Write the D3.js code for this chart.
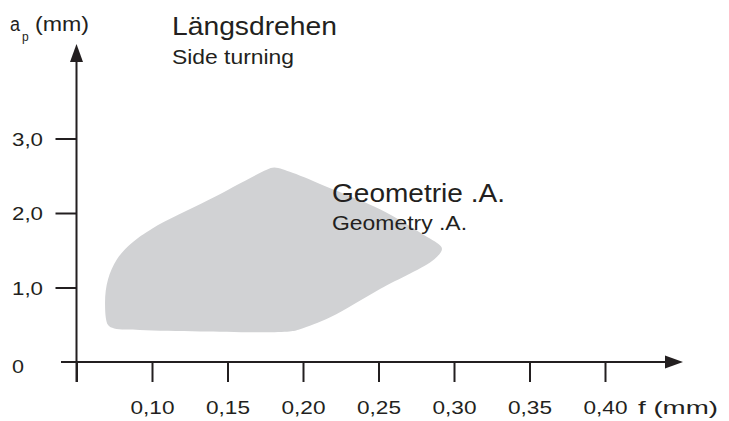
<!DOCTYPE html>
<html><head><meta charset="utf-8">
<script src="https://cdn.jsdelivr.net/npm/d3@7"></script>
<style>
html,body{margin:0;padding:0;background:#fff;}
text{font-family:"Liberation Sans",Arial,Helvetica,sans-serif;fill:#231f20;}
</style></head>
<body><svg id="c" width="729" height="421"></svg>
<script>
// Data
const xTicks = [0.05, 0.10, 0.15, 0.20, 0.25, 0.30, 0.35, 0.40];
const xTickLabels = ["", "0,10", "0,15", "0,20", "0,25", "0,30", "0,35", "0,40"];
const yTicks = [1, 2, 3];
const yTickLabels = ["1,0", "2,0", "3,0"];
// Outline of the "Geometrie .A." working area (f in mm, ap in mm)
const regionF  = [0.0709,0.0689,0.0709,0.0768,0.0868,0.100,0.138,0.176,0.181,0.193,0.216,0.251,0.282,0.291,0.292,0.287,0.251,0.218,0.198,0.191,0.132,0.092,0.075];
const regionAp = [0.495,0.80,1.11,1.38,1.60,1.79,2.18,2.58,2.61,2.54,2.35,2.05,1.68,1.56,1.51,1.38,0.98,0.60,0.44,0.41,0.41,0.43,0.45];

const svg = d3.select("#c");
const ink = "#231f20";
const x = d3.scaleLinear().domain([0.05, 0.40]).range([76.5, 605]);
const y = d3.scaleLinear().domain([0, 3]).range([362, 138.5]);

// region
const pts = regionF.map((f,i)=>[f, regionAp[i]]);
svg.append("path")
  .attr("d", d3.line().x(d=>x(d[0])).y(d=>y(d[1])).curve(d3.curveCatmullRomClosed.alpha(0.5))(pts))
  .attr("fill", "#d1d2d4");

// axes lines
svg.append("line").attr("x1", 61).attr("x2", 668).attr("y1", y(0)).attr("y2", y(0))
  .attr("stroke", ink).attr("stroke-width", 2);
svg.append("line").attr("x1", x(0.05)).attr("x2", x(0.05)).attr("y1", 382).attr("y2", 58)
  .attr("stroke", ink).attr("stroke-width", 2);
// arrowheads
svg.append("path").attr("d", `M${x(0.05)},44 L${x(0.05)+6.5},62 L${x(0.05)-6.5},62 Z`).attr("fill", ink);
svg.append("path").attr("d", `M683,${y(0)} L665,${y(0)-6.5} L665,${y(0)+6.5} Z`).attr("fill", ink);

// x axis ticks
const xa = svg.append("g").attr("transform", `translate(0,${y(0)})`)
  .call(d3.axisBottom(x).tickValues(xTicks).tickSize(20)
    .tickFormat((d,i)=>xTickLabels[i]));
xa.select(".domain").remove();
xa.selectAll(".tick line").attr("stroke", ink).attr("stroke-width", 2);
xa.selectAll(".tick text").attr("font-size", 19).attr("fill", ink)
  .attr("font-family", "'Liberation Sans',Arial,sans-serif")
  .attr("y", 52).attr("dy", 0)
  .attr("textLength", 44).attr("lengthAdjust", "spacingAndGlyphs");

// y axis ticks
const ya = svg.append("g").attr("transform", `translate(${x(0.05)},0)`)
  .call(d3.axisLeft(y).tickValues(yTicks).tickSize(21).tickFormat(()=>""));
ya.select(".domain").remove();
ya.selectAll(".tick line").attr("stroke", ink).attr("stroke-width", 2);
yTicks.forEach((v,i)=>{
  svg.append("text").attr("x", 12).attr("y", y(v)+7).attr("font-size", 19)
    .attr("textLength", 31).attr("lengthAdjust", "spacingAndGlyphs").text(yTickLabels[i]);
});
svg.append("text").attr("x", 12).attr("y", 373).attr("font-size", 19)
  .attr("textLength", 12).attr("lengthAdjust", "spacingAndGlyphs").text("0");

function label(tx, ty, str, size, len){
  const t = svg.append("text").attr("x", tx).attr("y", ty).attr("font-size", size).text(str);
  if (len) t.attr("textLength", len).attr("lengthAdjust", "spacingAndGlyphs");
  return t;
}
// axis titles
label(10, 31, "a", 20, 10);
label(22, 41, "p", 12);
label(35, 31, "(mm)", 20, 54);
label(638, 414, "f (mm)", 19, 80);

// titles
label(172, 35, "Längsdrehen", 26, 165);
label(172, 64, "Side turning", 21, 122);
label(332, 202, "Geometrie .A.", 26, 173);
label(332, 230, "Geometry .A.", 20, 135);
</script></body></html>
